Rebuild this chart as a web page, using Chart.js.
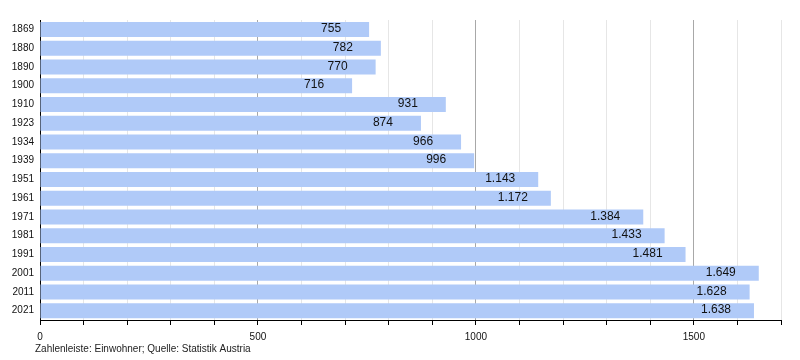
<!DOCTYPE html>
<html>
<head>
<meta charset="utf-8">
<script src="https://cdn.jsdelivr.net/npm/chart.js@4"></script>
<style>
  html, body { margin: 0; padding: 0; background: #fff; }
  #wrap { width: 800px; height: 360px; }
</style>
</head>
<body>
<div id="wrap"><canvas id="myChart"></canvas></div>
<script>
// data
const years = ['1869', '1880', '1890', '1900', '1910', '1923', '1934', '1939', '1951', '1961', '1971', '1981', '1991', '2001', '2011', '2021'];
const einwohner = [755, 782, 770, 716, 931, 874, 966, 996, 1143, 1172, 1384, 1433, 1481, 1649, 1628, 1638];
const tickLabels = [0, 500, 1000, 1500];
const source = 'Zahlenleiste: Einwohner; Quelle: Statistik Austria';

function fmt(n) {
  return n.toString().replace(/\B(?=(\d{3})+(?!\d))/g, '.');
}

// labels inside bar end + footer
const labelPlugin = {
  id: 'labels',
  afterDatasetsDraw(chart) {
    const c = chart.ctx;
    const meta = chart.getDatasetMeta(0);
    c.save();
    c.font = '12px "Liberation Sans", Arial, sans-serif';
    c.fillStyle = '#111';
    c.textAlign = 'center';
    c.textBaseline = 'middle';
    meta.data.forEach(function(bar, i) {
      c.fillText(fmt(einwohner[i]), bar.x - 38, bar.y - 0.5);
    });
    c.restore();
  },
  afterDraw(chart) {
    const c = chart.ctx;
    c.save();
    c.font = '10px "Liberation Sans", Arial, sans-serif';
    c.fillStyle = '#222';
    c.textAlign = 'left';
    c.textBaseline = 'middle';
    c.fillText(source, 35, 349);
    c.restore();
  }
};

const ctx = document.getElementById('myChart');

new Chart(ctx, {
  type: 'bar',
  data: {
    labels: years,
    datasets: [{
      data: einwohner,
      backgroundColor: 'rgb(176, 202, 248)',
      borderWidth: 0,
      barPercentage: 0.8,
      categoryPercentage: 1
    }]
  },
  options: {
    indexAxis: 'y',
    responsive: true,
    maintainAspectRatio: false,
    animation: false,
    layout: { padding: { left: 0, right: 19, top: 20, bottom: 0 } },
    plugins: {
      legend: { display: false },
      tooltip: { enabled: false }
    },
    scales: {
      x: {
        min: 0,
        max: 1700,
        afterFit(scale) { scale.height = 40; },
        ticks: {
          stepSize: 100,
          autoSkip: false,
          maxRotation: 0,
          color: '#111',
          font: { size: 10, family: '"Liberation Sans", Arial, sans-serif' },
          padding: 6,
          callback: function(v) { return tickLabels.includes(v) ? v : ''; }
        },
        grid: {
          color: function(c) { return c.tick && c.tick.value % 500 === 0 ? '#a8a8a8' : '#e6e6e6'; },
          tickColor: '#000',
          tickLength: 5,
          drawTicks: true
        },
        border: { color: '#000', width: 1 }
      },
      y: {
        afterFit(scale) { scale.width = 40; },
        ticks: {
          color: '#111',
          font: { size: 10, family: '"Liberation Sans", Arial, sans-serif' },
          padding: 6
        },
        grid: { display: false, drawTicks: false },
        border: { color: '#000', width: 1 }
      }
    }
  },
  plugins: [labelPlugin]
});
</script>
</body>
</html>
